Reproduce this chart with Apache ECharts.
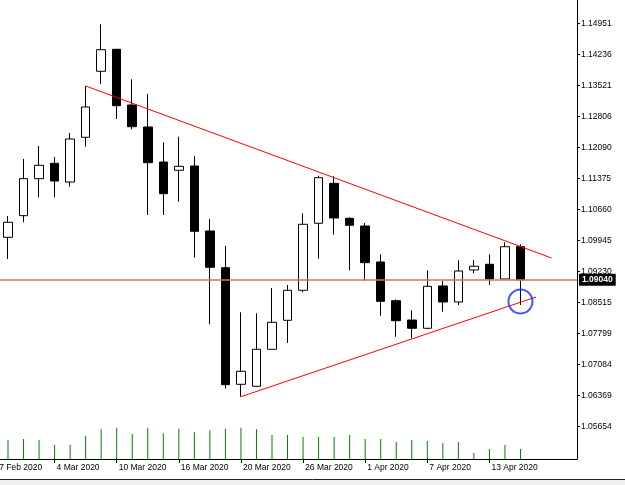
<!DOCTYPE html>
<html>
<head>
<meta charset="utf-8">
<title>EURUSD Daily</title>
<script src="https://cdn.jsdelivr.net/npm/echarts@6/dist/echarts.min.js"></script>
<style>
  html, body { margin: 0; padding: 0; background: #fff; }
  #chart { width: 625px; height: 485px; }
</style>
</head>
<body>
<div id="chart"></div>
<script>
// daily candles, index 0 = 28 Feb 2020
const dates = ['28 Feb', '2 Mar', '3 Mar', '4 Mar', '5 Mar', '6 Mar', '9 Mar', '10 Mar', '11 Mar', '12 Mar',
  '13 Mar', '16 Mar', '17 Mar', '18 Mar', '19 Mar', '20 Mar', '23 Mar', '24 Mar', '25 Mar', '26 Mar',
  '27 Mar', '30 Mar', '31 Mar', '1 Apr', '2 Apr', '3 Apr', '6 Apr', '7 Apr', '8 Apr', '9 Apr',
  '10 Apr', '13 Apr', '14 Apr', '15 Apr'];
const openP = [1.10019, 1.10517, 1.11370, 1.11724, 1.11293, 1.12324, 1.13845, 1.14352, 1.13068, 1.12561,
  1.11754, 1.11563, 1.11662, 1.10164, 1.09318, 1.06631, 1.06585, 1.07438, 1.08106, 1.08797,
  1.10342, 1.11263, 1.10457, 1.10279, 1.09450, 1.08558, 1.08113, 1.07922, 1.08897, 1.08528,
  1.09265, 1.09397, 1.09058, 1.09802];
const closeP = [1.10365, 1.11370, 1.11678, 1.11316, 1.12284, 1.13022, 1.14343, 1.13052, 1.12568, 1.11738,
  1.11024, 1.11655, 1.10157, 1.09328, 1.06622, 1.06931, 1.07438, 1.08060, 1.08797, 1.10319,
  1.11393, 1.10464, 1.10296, 1.09434, 1.08544, 1.08097, 1.07922, 1.08890, 1.08528, 1.09242,
  1.09351, 1.09058, 1.09802, 1.09040];
const lowP = [1.09519, 1.10365, 1.10941, 1.10941, 1.11185, 1.12107, 1.13552, 1.12745, 1.12508, 1.10533,
  1.10533, 1.10839, 1.09549, 1.08014, 1.06530, 1.06345, 1.06585, 1.07438, 1.07583, 1.08751,
  1.09526, 1.10079, 1.09258, 1.09019, 1.08212, 1.07728, 1.07691, 1.07899, 1.08304, 1.08459,
  1.09189, 1.08920, 1.09058, 1.08459];
const highP = [1.10510, 1.11824, 1.12123, 1.11870, 1.12423, 1.13506, 1.14928, 1.14359, 1.13660, 1.13322,
  1.12208, 1.12337, 1.11893, 1.10441, 1.09818, 1.08290, 1.08267, 1.08851, 1.08920, 1.10572,
  1.11439, 1.11425, 1.10480, 1.10348, 1.09627, 1.08590, 1.08337, 1.09258, 1.09012, 1.09489,
  1.09496, 1.09627, 1.09904, 1.09858];
// tick volume (thousands)
const volumes = [114, 120, 114, 84, 86, 138, 178, 188, 150, 188,
  154, 182, 160, 172, 182, 188, 178, 144, 144, 132,
  132, 132, 144, 120, 120, 102, 114, 108, 96, 102,
  36, 60, 84, 60];

// axis ticks
const xTickIdx = [-1, 3, 7, 11, 15, 19, 23, 27, 31];
const xTickLabels = ['27 Feb 2020', '4 Mar 2020', '10 Mar 2020', '16 Mar 2020', '20 Mar 2020',
  '26 Mar 2020', '1 Apr 2020', '7 Apr 2020', '13 Apr 2020'];
const yTicks = [1.05654, 1.06369, 1.07084, 1.07799, 1.08515, 1.09230, 1.09945,
  1.10660, 1.11375, 1.12090, 1.12806, 1.13521, 1.14236, 1.14951];

// drawings on the chart
const lastPrice = 1.09040;
const upperTrend = [[5, 1.13506], [35, 1.09542]];
const lowerTrend = [[15, 1.06345], [34, 1.08643]];
const markedLow = [[33, 1.0854]];

const FONT = 'Liberation Sans';
const X_MIN = -1, X_MAX = 36.64;

const chart = echarts.init(document.getElementById('chart'));
const candles = dates.map((d, i) => [i, openP[i], closeP[i], lowP[i], highP[i]]);

chart.setOption({
  animation: false,
  backgroundColor: '#fff',
  grid: { left: -7.53, right: 48, top: 0, bottom: 26, outerBoundsMode: 'none' },
  xAxis: {
    type: 'value',
    min: X_MIN,
    max: X_MAX,
    axisLine: { show: true, onZero: false, lineStyle: { color: '#000', width: 1 } },
    axisTick: { show: true, customValues: xTickIdx, length: 4, lineStyle: { color: '#000' } },
    axisLabel: {
      customValues: xTickIdx,
      formatter: v => xTickLabels[xTickIdx.indexOf(v)],
      align: 'left', margin: 4, padding: [0, 0, 0, 2],
      color: '#000', fontFamily: FONT, fontSize: 8.5
    },
    splitLine: { show: false }
  },
  yAxis: [{
    type: 'value',
    position: 'right',
    min: 1.04909,
    max: 1.15488,
    axisLine: { show: true, onZero: false, lineStyle: { color: '#000', width: 1 } },
    axisTick: { show: true, customValues: yTicks, length: 3, lineStyle: { color: '#000' } },
    axisLabel: {
      customValues: yTicks,
      formatter: v => v.toFixed(5),
      margin: 4, color: '#000', fontFamily: FONT, fontSize: 8.5
    },
    splitLine: { show: false }
  }, {
    type: 'value', min: 0, max: 2754, show: false,
    axisLine: { show: false, onZero: false }
  }],
  series: [{
    type: 'candlestick',
    data: candles,
    barWidth: 9,
    silent: true,
    itemStyle: {
      color: '#fff', color0: '#000',
      borderColor: '#000', borderColor0: '#000', borderColorDoji: '#000',
      borderWidth: 1
    },
    markLine: {
      silent: true,
      symbol: 'none',
      animation: false,
      data: [
        // trend lines
        [{ coord: upperTrend[0] }, { coord: upperTrend[1] }],
        [{ coord: lowerTrend[0] }, { coord: lowerTrend[1] }],
        // current price line
        [{
          coord: [X_MIN, lastPrice],
          lineStyle: { color: '#e2704d', width: 1.5, type: 'solid' },
          label: {
            show: true, position: 'end', distance: 2,
            formatter: lastPrice.toFixed(5),
            backgroundColor: '#000', color: '#fff',
            padding: [2, 3, 1, 3],
            fontFamily: FONT, fontSize: 8.5, fontWeight: 'bold'
          }
        }, { coord: [X_MAX, lastPrice] }]
      ],
      lineStyle: { color: '#ff0000', width: 1, type: 'solid' },
      label: { show: false },
      emphasis: { disabled: true }
    }
  }, {
    type: 'bar',
    yAxisIndex: 1,
    data: volumes.map((v, i) => [i, v]),
    barWidth: 1,
    silent: true,
    itemStyle: { color: '#008000' }
  }, {
    type: 'scatter',
    data: markedLow,
    symbol: 'circle',
    symbolSize: 24,
    silent: true,
    itemStyle: { color: 'rgba(0,0,0,0)', borderColor: '#1a2cff', borderWidth: 2 },
    z: 10
  }],
  graphic: [{
    type: 'rect',
    shape: { x: 0, y: 479, width: 625, height: 6 },
    style: { fill: '#f0f0f0', stroke: null },
    silent: true
  }, {
    type: 'line',
    shape: { x1: 0, y1: 479.5, x2: 625, y2: 479.5 },
    style: { stroke: '#202020', lineWidth: 1 },
    silent: true
  }]
});

window.onresize = function () {
  chart.resize();
};
</script>
</body>
</html>
